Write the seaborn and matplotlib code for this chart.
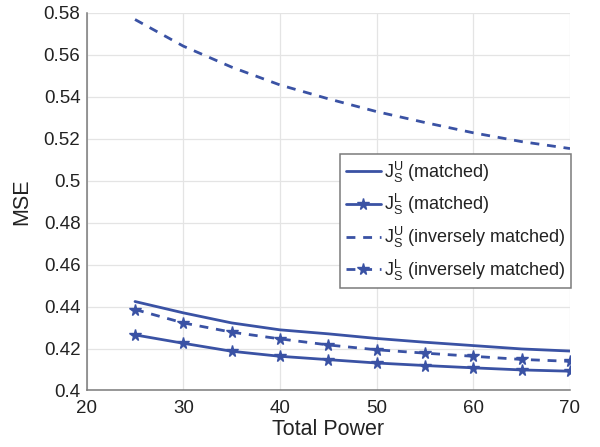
import numpy as np
import pandas as pd
import matplotlib
matplotlib.use("Agg")
import matplotlib.pyplot as plt
import seaborn as sns

power = [25, 30, 35, 40, 45, 50, 55, 60, 65, 70]
ju_matched = [0.4424, 0.4370, 0.4322, 0.4289, 0.4270, 0.4248, 0.4230, 0.4214, 0.4198, 0.4188]
jl_matched = [0.4265, 0.4225, 0.4187, 0.4163, 0.4147, 0.4131, 0.4119, 0.4108, 0.4098, 0.4092]
ju_inverse = [0.5768, 0.5641, 0.5541, 0.5456, 0.5390, 0.5329, 0.5277, 0.5228, 0.5186, 0.5153]
jl_inverse = [0.4386, 0.4322, 0.4278, 0.4246, 0.4217, 0.4194, 0.4178, 0.4163, 0.4148, 0.4139]

labels = [r"$\mathregular{J_S^U}$ (matched)",
          r"$\mathregular{J_S^L}$ (matched)",
          r"$\mathregular{J_S^U}$ (inversely matched)",
          r"$\mathregular{J_S^L}$ (inversely matched)"]
yticks = [0.4, 0.42, 0.44, 0.46, 0.48, 0.5, 0.52, 0.54, 0.56, 0.58]

sns.set_style("whitegrid")
plt.rcParams["font.family"] = ["Liberation Sans", "DejaVu Sans"]
plt.rcParams["mathtext.fontset"] = "custom"
plt.rcParams["mathtext.rm"] = "Liberation Sans"
plt.rcParams["mathtext.it"] = "Liberation Sans"

blue = "#3a52a4"
fig = plt.figure(figsize=(6, 4.47), dpi=100)
ax = fig.add_axes([0.1445, 0.1264, 0.8055, 0.845])

# matlab-ish dashes
dash = (0, (3.2, 2.8))
series = [(ju_matched, "-", None), (jl_matched, "-", "*"),
          (ju_inverse, dash, None), (jl_inverse, dash, "*")]
for (vals, ls, mk), lab in zip(series, labels):
    sns.lineplot(x=power, y=vals, ax=ax, color=blue, linestyle=ls, marker=mk,
                 markersize=8.5, markeredgecolor=blue, markeredgewidth=1.0,
                 linewidth=2.0, label=lab)

ax.set_xlim(20, 70)
ax.set_ylim(0.4, 0.58)
ax.set_xticks(range(20, 71, 10))
ax.set_yticks(yticks)
ax.set_yticklabels([f"{v:g}" for v in yticks])
ax.grid(True, color="#e4e4e4", linewidth=0.9)
for s in ["top", "right"]:
    ax.spines[s].set_visible(False)
for s in ["left", "bottom"]:
    ax.spines[s].set_color("#7a7a7a")
    ax.spines[s].set_linewidth(1.1)
ax.tick_params(direction="in", length=4, width=1, color="#7a7a7a",
               labelsize=13.5, labelcolor="#222222")
ax.tick_params(axis="y", pad=4.5)
ax.tick_params(axis="x", pad=7)
ax.set_xlabel("Total Power", fontsize=15.5, labelpad=1, color="#222222")
ax.set_ylabel("MSE", fontsize=15.5, labelpad=8, color="#222222")

leg = ax.legend(loc="upper right", bbox_to_anchor=(1.002, 0.626), fontsize=13,
                frameon=True, fancybox=False, edgecolor="#7a7a7a", handlelength=1.95,
                handletextpad=0.15, borderpad=0.3, labelspacing=0.42,
                borderaxespad=0, framealpha=1)
leg.get_frame().set_linewidth(1.1)
for t in leg.get_texts():
    t.set_color("#222222")

plt.savefig("out.png", dpi=100)
plt.close()
